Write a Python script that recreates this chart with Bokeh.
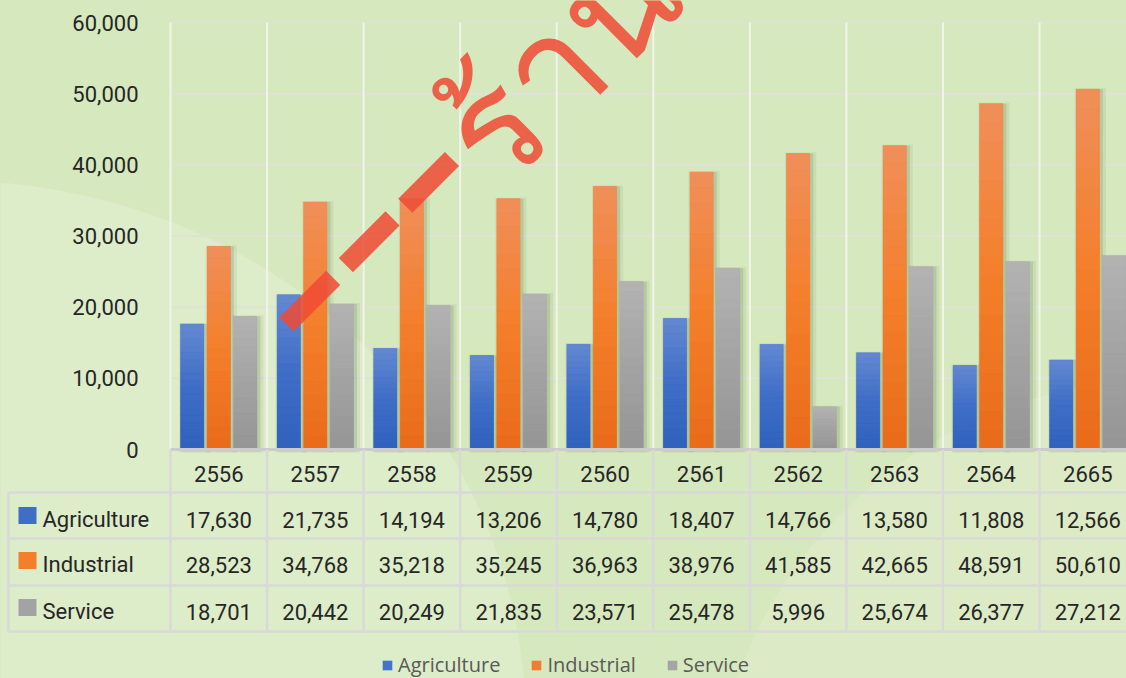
import numpy as np
from bokeh.plotting import figure
from bokeh.models import Range1d, Legend, LegendItem, GlobalInlineStyleSheet
from bokeh.core.properties import value
from bokeh.embed import file_html
from bokeh.resources import INLINE

# ---------------- data ----------------
years = ["2556", "2557", "2558", "2559", "2560", "2561", "2562", "2563", "2564", "2665"]
agriculture = [17630, 21735, 14194, 13206, 14780, 18407, 14766, 13580, 11808, 12566]
industrial = [28523, 34768, 35218, 35245, 36963, 38976, 41585, 42665, 48591, 50610]
service = [18701, 20442, 20249, 21835, 23571, 25478, 5996, 25674, 26377, 27212]
series_names = ["Agriculture", "Industrial", "Service"]
y_ticks = [0, 10000, 20000, 30000, 40000, 50000, 60000]
watermark = "ร้าน"

# ---------------- styles / layout ----------------
series_colors = ["#4674c8", "#ef7d32", "#a5a5a5"]
# gradient stops (bottom -> middle -> top) for each series
series_stops = [["#2f61be", "#3f6ec6", "#6388d1"],
                ["#e96b1a", "#f47f2b", "#f08f5a"],
                ["#959595", "#a3a3a3", "#b3b3b3"]]
BG = "#d6e8bd"
FONT = "Roboto"
FIG_W, FIG_H = 1126, 678
CAT_PX = 96.56            # pixels per category
VAL_PX = 427 / 60000      # pixels per unit of value
X0, Y0 = 170, 449         # px of category 0 left edge / value 0


def fx(px):
    return (px - X0) / CAT_PX


def fy(py):
    return (Y0 - py) / VAL_PX


def hex2rgb(h):
    h = h.lstrip("#")
    return np.array([int(h[i:i + 2], 16) for i in (0, 2, 4)], dtype=float)


def grad(stops, t):
    pos = t * (len(stops) - 1)
    i = min(int(pos), len(stops) - 2)
    f = pos - i
    c = hex2rgb(stops[i]) * (1 - f) + hex2rgb(stops[i + 1]) * f
    return "#%02x%02x%02x" % tuple(int(round(v)) for v in c)


p = figure(width=FIG_W, height=FIG_H, output_backend="svg", toolbar_location=None,
           x_axis_type=None, y_axis_type=None,
           x_range=Range1d(fx(0), fx(FIG_W)), y_range=Range1d(fy(FIG_H), fy(0)),
           min_border=0, background_fill_color=BG, border_fill_color=BG)
p.outline_line_color = None
p.stylesheets = [GlobalInlineStyleSheet(css="html, body { background-color: %s; }" % BG)]

# subtle light swirls in the background
p.ellipse(x=[fx(-50)], y=[fy(720)], width=[1150 / CAT_PX], height=[1080 / VAL_PX],
          fill_color="white", fill_alpha=0.18, line_color=None)
p.ellipse(x=[fx(1160)], y=[fy(830)], width=[900 / CAT_PX], height=[900 / VAL_PX],
          fill_color="white", fill_alpha=0.15, line_color=None)

n = len(years)
xs = np.arange(n) + 0.5
off = 0.275
bw = 0.24
series_values = [agriculture, industrial, service]

# grid lines
p.segment(x0=[0] * len(y_ticks), y0=y_ticks, x1=[n] * len(y_ticks), y1=y_ticks,
          line_color="#e0e2d8", line_width=2)
bounds = np.arange(n + 1)
p.segment(x0=bounds, y0=[0] * (n + 1), x1=bounds, y1=[max(y_ticks)] * (n + 1),
          line_color="#f1f4ea", line_width=2)

# bars: soft shadow, base bar, vertical gradient bands
NB = 18
renderers = []
for k, (vals, col, stops) in enumerate(zip(series_values, series_colors, series_stops)):
    xk = xs + (k - 1) * off
    vals = np.array(vals, dtype=float)
    p.vbar(x=xk + 2.5 / CAT_PX, top=vals + 1 / VAL_PX, bottom=-3 / VAL_PX, width=bw + 8 / CAT_PX,
           fill_color="#3f5a30", fill_alpha=0.08, line_color=None)
    p.vbar(x=xk + 2 / CAT_PX, top=vals, bottom=-2 / VAL_PX, width=bw + 3 / CAT_PX,
           fill_color="#3f5a30", fill_alpha=0.15, line_color=None)
    r = p.vbar(x=xk, top=vals, bottom=0, width=bw, fill_color=col, line_color=None)
    renderers.append(r)
    bx, bb, bt, bc = [], [], [], []
    for j in range(n):
        for i in range(NB):
            bx.append(xk[j])
            bb.append(vals[j] * i / NB)
            bt.append(vals[j] * (i + 1) / NB)
            bc.append(grad(stops, (i + 0.5) / NB))
    p.vbar(x=bx, bottom=bb, top=bt, width=bw, fill_color=bc, line_color=bc, line_width=0.6)

# data table lines
TL = "#d9d9d9"
p.segment(x0=[0], y0=[0], x1=[n], y1=[0], line_color="#cccccc", line_width=3)
row_lines = [fy(492), fy(538), fy(585), fy(631)]
p.segment(x0=[fx(8)] * 4, y0=row_lines, x1=[n] * 4, y1=row_lines, line_color=TL, line_width=2.5)
p.segment(x0=bounds, y0=[0] * (n + 1), x1=bounds, y1=[fy(631)] * (n + 1),
          line_color=TL, line_width=2.5)
p.segment(x0=[fx(8)], y0=[fy(492)], x1=[fx(8)], y1=[fy(631)], line_color=TL, line_width=2.5)

# y tick labels
p.text(x=[fx(138)] * len(y_ticks), y=y_ticks, text=[f"{t:,}" for t in y_ticks],
       text_font=value(FONT), text_font_size="22px", text_color="#262626",
       text_align="right", text_baseline="middle")

# header row
p.text(x=xs, y=[fy(473)] * n, text=years, text_font=value(FONT), text_font_size="22px",
       text_color="#262626", text_align="center", text_baseline="middle")

row_centers = [fy(519), fy(564), fy(611)]
for name, vals, stops, yc in zip(series_names, series_values, series_stops, row_centers):
    p.text(x=xs, y=[yc] * n, text=[f"{v:,}" for v in vals], text_font=value(FONT),
           text_font_size="22px", text_color="#262626", text_align="center",
           text_baseline="middle")
    p.rect(x=[fx(27)], y=[yc + 4 / VAL_PX], width=18, height=17, width_units="screen",
           height_units="screen", fill_color=stops[1], line_color=None)
    p.text(x=[fx(42)], y=[yc], text=[name], text_font=value(FONT), text_font_size="22px",
           text_color="#262626", text_align="left", text_baseline="middle")

# watermark
p.line(x=[fx(286), fx(452)], y=[fy(324), fy(158)], line_color="#f04a35", line_alpha=0.85,
       line_width=20, line_dash="66 18", line_cap="butt")
p.text(x=[fx(460)], y=[fy(152)], text=[watermark], angle=np.pi / 4,
       text_font=value("Noto Sans"), text_font_size="150px", text_color="#f04a35",
       text_alpha=0.85, text_align="left", text_baseline="alphabetic")

# legend
legend = Legend(items=[LegendItem(label=nm, renderers=[r]) for nm, r in zip(series_names, renderers)],
                orientation="horizontal", location=(381, 0), background_fill_alpha=0,
                border_line_color=None, glyph_width=12, glyph_height=12, padding=0, margin=0,
                spacing=30, label_standoff=5, label_text_font="Open Sans",
                label_text_font_size="20px", label_text_color="#595959")
p.add_layout(legend)

open("out.html", "w").write(file_html(p, INLINE))
